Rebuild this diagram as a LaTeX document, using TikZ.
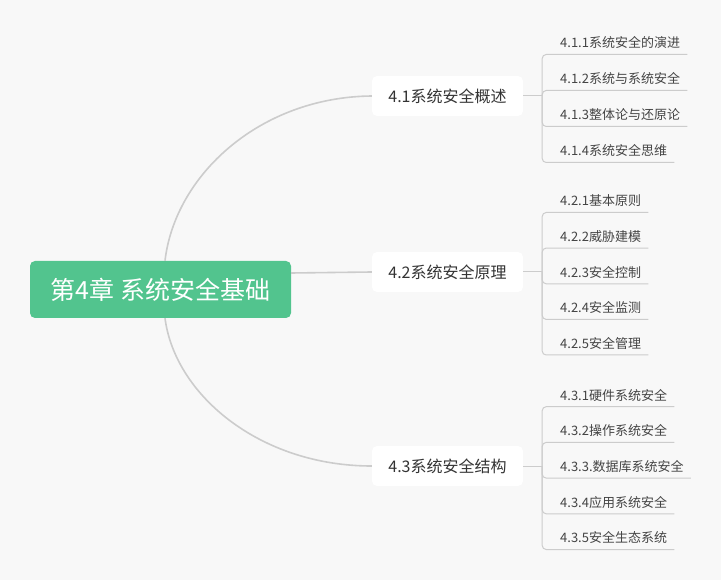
\documentclass[tikz,border=0pt]{standalone}
\usepackage{fontspec}
\newfontfamily\cjkfont{Noto Sans CJK SC}
\usepackage{tikz}
\usetikzlibrary{calc, positioning}
\definecolor{mmbg}{HTML}{F8F8F8}
\definecolor{mmroot}{HTML}{52C48E}
\definecolor{mmline}{HTML}{CCCCCC}
\definecolor{mmtext}{HTML}{333333}
\definecolor{mmtextlt}{HTML}{444444}
\tikzset{
  rootbox/.style  = {rounded corners=5pt, fill=mmroot, text=white,
                     font=\cjkfont\fontsize{25}{28}\selectfont,
                     minimum width=261pt, minimum height=57pt, inner sep=0pt},
  secbox/.style   = {rounded corners=5pt, fill=white, text=mmtext,
                     font=\cjkfont\fontsize{16}{19}\selectfont,
                     minimum width=151pt, minimum height=40pt, inner sep=0pt},
  leaf/.style     = {anchor=south west, text=mmtextlt,
                     font=\cjkfont\fontsize{13}{15}\selectfont,
                     inner xsep=7pt, inner ysep=4pt, text depth=2.5pt},
  mainedge/.style = {draw=mmline, line width=1.6pt},
  leafedge/.style = {draw=mmline, line width=1pt, rounded corners=4pt},
}

\begin{document}
\begin{tikzpicture}[x=1pt, y=-1pt]
  \fill[mmbg] (0,0) rectangle (721,580);
  \useasboundingbox (0,0) rectangle (721,580);
  \node[rootbox] (r) at (160.5,289.5) {第4章 系统安全基础};
  \node[secbox] (s41) at (447.5,96) {4.1系统安全概述};
  \node[secbox] (s42) at (447.5,272) {4.2系统安全原理};
  \node[secbox] (s43) at (447.5,466) {4.3系统安全结构};
  \draw[mainedge] ([xshift=4.5pt]r.north) .. controls (175,175) and (260,97) .. (s41.west);
  \draw[mainedge] ([yshift=16.5pt]r.east) -- (s42.west);
  \draw[mainedge] ([xshift=4.5pt]r.south) .. controls (175,395) and (260,466) .. (s43.west);
  % 4.1
  \coordinate[right=19pt of s41] (h41);
  \node[leaf] (l411) at (553,54.5) {4.1.1系统安全的演进};
  \node[leaf] (l412) at (553,90.5) {4.1.2系统与系统安全};
  \node[leaf] (l413) at (553,126.5) {4.1.3整体论与还原论};
  \node[leaf] (l414) at (553,162.5) {4.1.4系统安全思维};
  \draw[leafedge] (s41.east) -- (h41);
  \draw[leafedge] (h41) |- (l411.south east);
  \draw[leafedge] (h41) |- (l412.south east);
  \draw[leafedge] (h41) |- (l413.south east);
  \draw[leafedge] (h41) |- (l414.south east);
  % 4.2
  \coordinate[right=19pt of s42] (h42);
  \node[leaf] (l421) at (553,212.5) {4.2.1基本原则};
  \node[leaf] (l422) at (553,248.1) {4.2.2威胁建模};
  \node[leaf] (l423) at (553,283.8) {4.2.3安全控制};
  \node[leaf] (l424) at (553,319.4) {4.2.4安全监测};
  \node[leaf] (l425) at (553,355) {4.2.5安全管理};
  \draw[leafedge] (s42.east) -- (h42);
  \draw[leafedge] (h42) |- (l421.south east);
  \draw[leafedge] (h42) |- (l422.south east);
  \draw[leafedge] (h42) |- (l423.south east);
  \draw[leafedge] (h42) |- (l424.south east);
  \draw[leafedge] (h42) |- (l425.south east);
  % 4.3
  \coordinate[right=19pt of s43] (h43);
  \node[leaf] (l431) at (553,406.7) {4.3.1硬件系统安全};
  \node[leaf] (l432) at (553,442.4) {4.3.2操作系统安全};
  \node[leaf] (l433) at (553,478.1) {4.3.3.数据库系统安全};
  \node[leaf] (l434) at (553,513.8) {4.3.4应用系统安全};
  \node[leaf] (l435) at (553,549.5) {4.3.5安全生态系统};
  \draw[leafedge] (s43.east) -- (h43);
  \draw[leafedge] (h43) |- (l431.south east);
  \draw[leafedge] (h43) |- (l432.south east);
  \draw[leafedge] (h43) |- (l433.south east);
  \draw[leafedge] (h43) |- (l434.south east);
  \draw[leafedge] (h43) |- (l435.south east);
\end{tikzpicture}
\end{document}
